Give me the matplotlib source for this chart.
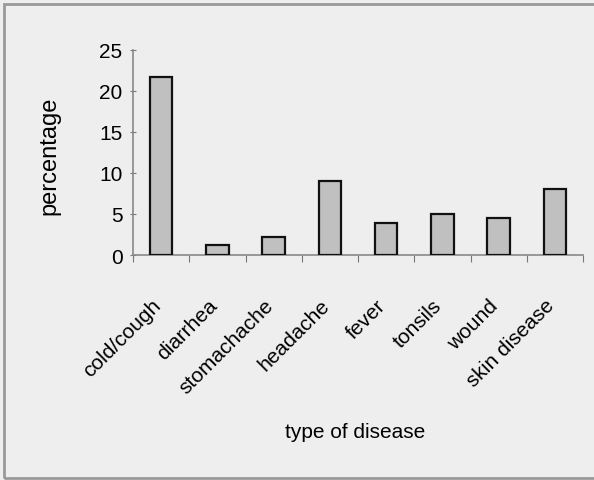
import matplotlib
matplotlib.use("Agg")
import matplotlib.pyplot as plt
import matplotlib.transforms as mtransforms
from matplotlib.patches import Rectangle
import numpy as np

plt.rcParams['font.family'] = ['Liberation Sans', 'DejaVu Sans']

diseases = ["cold/cough", "diarrhea", "stomachache", "headache", "fever",
            "tonsils", "wound", "skin disease"]
percent = [21.7, 1.2, 2.2, 9.0, 3.9, 5.0, 4.5, 8.0]
yticks = [0, 5, 10, 15, 20, 25]

bg = '#eeeeee'
fs = 15
fig = plt.figure(figsize=(5.94, 4.81), dpi=100, facecolor=bg)
ax = fig.add_axes([133/594, 1-256/481, 450/594, 205/481])
ax.set_facecolor('none')

x = np.arange(len(diseases))
ax.bar(x, percent, width=0.4, color='#c0c0c0', edgecolor='#111111', linewidth=1.6, zorder=3)

ax.set_xlim(-0.5, len(diseases)-0.5)
ax.set_ylim(0, 25)
ax.set_yticks(yticks)
ax.set_yticklabels([str(t) for t in yticks], fontsize=fs)
ax.set_xticks(np.arange(len(diseases)+1)-0.5)
ax.set_xticklabels([])
ax.set_xticks(x, minor=True)
ax.set_xticklabels(diseases, minor=True, rotation=45, ha='right',
                   rotation_mode='anchor', fontsize=fs)
ax.tick_params(axis='x', which='minor', length=0, pad=22)
ax.tick_params(axis='x', which='major', length=5, color='#777777', direction='out')
ax.tick_params(axis='y', length=5, color='#777777', direction='inout', pad=5)

# shift the slanted labels a little down and left
shift = mtransforms.ScaledTranslation(-0.10, -0.10, fig.dpi_scale_trans)
for lab in ax.get_xticklabels(minor=True):
    lab.set_transform(lab.get_transform() + shift)

for s in ['top', 'right']:
    ax.spines[s].set_visible(False)
for s in ['left', 'bottom']:
    ax.spines[s].set_color('#888888')
    ax.spines[s].set_linewidth(1.2)

fig.text(49/594, 1-156/481, 'percentage', rotation=90, ha='center', va='center', fontsize=17)
fig.text(355/594, 1-432/481, 'type of disease', ha='center', va='center', fontsize=fs)

fig.patches.append(Rectangle((4/594, 2/481), 600/594, 474/481, transform=fig.transFigure,
                             fill=False, edgecolor='#999999', linewidth=2))

fig.savefig("out.png", dpi=100, facecolor=bg)
